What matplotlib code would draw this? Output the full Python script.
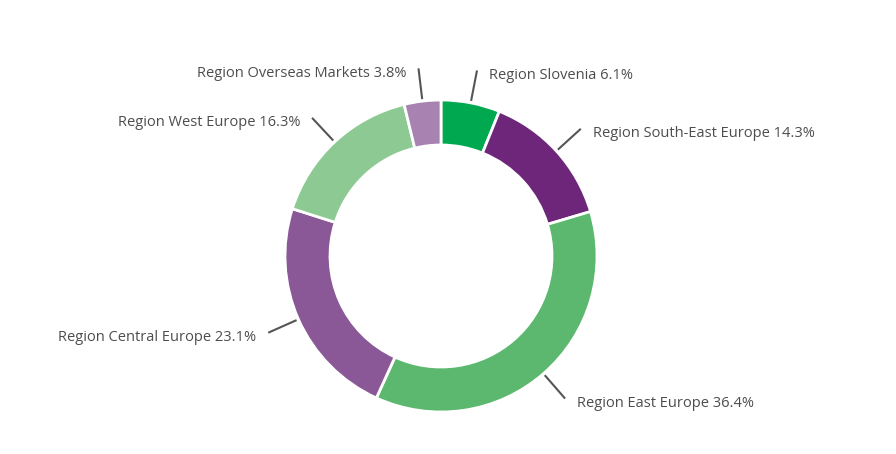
import numpy as np
import matplotlib
matplotlib.use('Agg')
import matplotlib.pyplot as plt

# Share of sales by region (%)
regions = ['Region Slovenia', 'Region South-East Europe', 'Region East Europe',
           'Region Central Europe', 'Region West Europe', 'Region Overseas Markets']
shares = [6.1, 14.3, 36.4, 23.1, 16.3, 3.8]
colors = ['#00a94f', '#6d267a', '#5cb86f', '#8a5797', '#8dc993', '#a882b0']

W, H = 896, 454
cx, cy = 441, H - 256
radius = 156

fig = plt.figure(figsize=(W / 100, H / 100), dpi=100)
ax = fig.add_axes([0, 0, 1, 1])
ax.axis('off')

wedges, _ = ax.pie(shares, colors=colors, startangle=90, counterclock=False,
                   center=(cx, cy), radius=radius,
                   wedgeprops=dict(width=45, edgecolor='white', linewidth=2))
ax.set_xlim(0, W)
ax.set_ylim(0, H)
ax.set_aspect('equal')

# leader lines and labels
for w, name, val in zip(wedges, regions, shares):
    ang = np.deg2rad((w.theta1 + w.theta2) / 2)
    x0, y0 = cx + (radius + 2) * np.cos(ang), cy + (radius + 2) * np.sin(ang)
    x1, y1 = cx + (radius + 33) * np.cos(ang), cy + (radius + 33) * np.sin(ang)
    ax.plot([x0, x1], [y0, y1], color='#555555', lw=1.5, solid_capstyle='butt')
    right = np.cos(ang) >= 0
    tx = x1 + (12 if right else -12)
    ty = y1 - 5
    ax.text(tx, ty, f'{name} {val}%', ha='left' if right else 'right', va='center',
            fontsize=10.5, color='#4d4d4d', family='Open Sans')

fig.savefig('out.png', dpi=100)
